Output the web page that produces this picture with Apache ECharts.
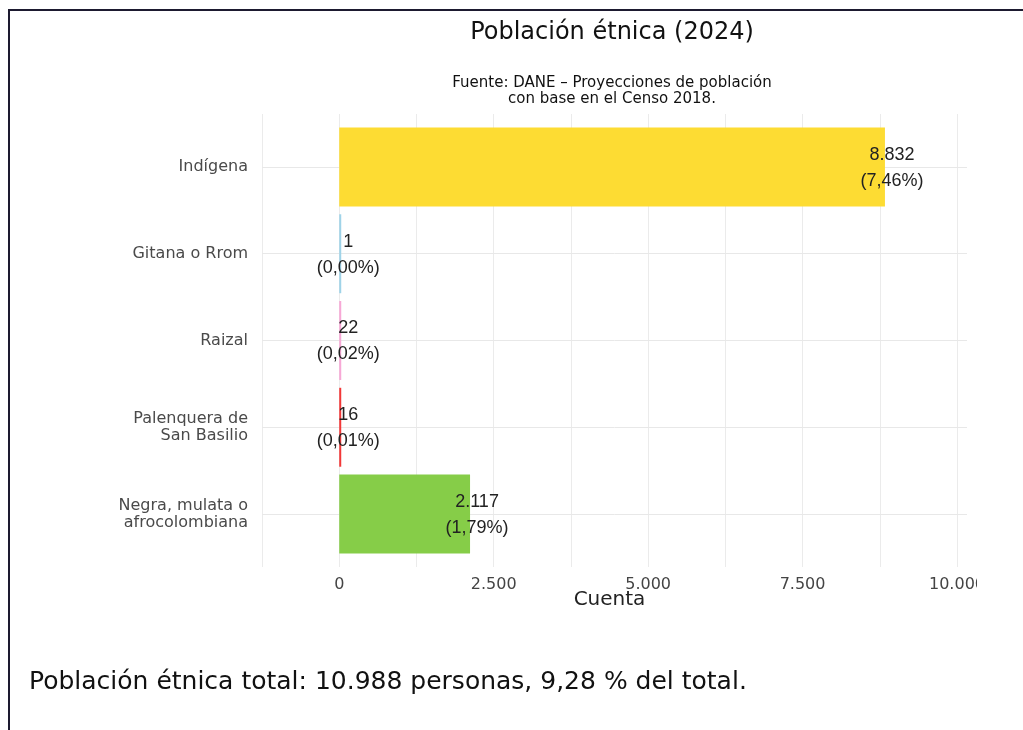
<!DOCTYPE html>
<html>
<head>
<meta charset="utf-8">
<script src="https://cdn.jsdelivr.net/npm/echarts@6/dist/echarts.min.js"></script>
<style>
  html, body { margin: 0; padding: 0; background: #fff; width: 1023px; height: 730px; overflow: hidden; }
  #chart { position: absolute; left: 0; top: 0; width: 977px; height: 730px; }
  #frame { position: absolute; left: 8px; top: 9px; right: 0; bottom: -5px; border-top: 2px solid #1d1a30; border-left: 2px solid #1d1a30; pointer-events: none; }
</style>
</head>
<body>
<div id="chart"></div>
<div id="frame"></div>
<script>
const titleText = 'Población étnica (2024)';
const subtitleText = 'Fuente: DANE – Proyecciones de población\ncon base en el Censo 2018.';
const footerText = 'Población étnica total: 10.988 personas, 9,28 % del total.';
const axisName = 'Cuenta';
const categories = ['Negra, mulata o\nafrocolombiana', 'Palenquera de\nSan Basilio', 'Raizal', 'Gitana o Rrom', 'Indígena'];
const counts = [2117, 16, 22, 1, 8832];
const percents = [1.79, 0.01, 0.02, 0.00, 7.46];
const barColors = ['#86CD48', '#F23838', '#F7A8D6', '#9FD3E8', '#FDDC33'];
const xTickLabels = [0, 2500, 5000, 7500, 10000];

const fmtNum = v => Math.round(v).toString().replace(/\B(?=(\d{3})+(?!\d))/g, '.');
const fmtPct = p => p.toFixed(2).replace('.', ',');

const chart = echarts.init(document.getElementById('chart'), null, { renderer: 'canvas' });

const option = {
  backgroundColor: '#ffffff',
  animation: false,
  grid: [
    { left: 262, right: 10, top: 123.6, bottom: 172.6, containLabel: false, outerBoundsMode: 'none' },
    { left: 262, right: 20, top: 114, bottom: 163, containLabel: false, outerBoundsMode: 'none' }
  ],
  xAxis: [
    { type: 'value', gridIndex: 0, min: -1250, max: 10160, interval: 1250,
      axisLine: { show: false }, axisTick: { show: false }, axisLabel: { show: false }, splitLine: { show: false } },
    { type: 'value', gridIndex: 1, min: -1250, max: 10000, interval: 1250,
      axisLine: { show: false }, axisTick: { show: false },
      splitLine: { show: true, lineStyle: { color: '#ebebeb', width: 1 } },
      axisLabel: {
        margin: 10, fontSize: 16, color: '#444', fontFamily: 'DejaVu Sans',
        formatter: v => (xTickLabels.indexOf(v) >= 0 ? fmtNum(v) : '')
      },
      name: axisName, nameLocation: 'middle', nameGap: 23, nameMoveOverlap: false,
      nameTextStyle: { fontSize: 20, color: '#222', fontFamily: 'DejaVu Sans' }
    }
  ],
  yAxis: [
    { type: 'category', gridIndex: 0, data: categories,
      axisLine: { show: false }, axisTick: { show: false }, splitLine: { show: false },
      axisLabel: { margin: 14, fontSize: 16, lineHeight: 17, color: '#4a4a4a', fontFamily: 'DejaVu Sans', align: 'right' } },
    { type: 'value', gridIndex: 1, min: 0, max: 1, show: false }
  ],
  series: [
    {
      type: 'scatter', xAxisIndex: 0, yAxisIndex: 0, data: [], z: 0, silent: true,
      markLine: {
        z: 0, silent: true, symbol: ['none', 'none'],
        label: { show: false },
        lineStyle: { color: '#e8e8e8', width: 1, type: 'solid' },
        data: categories.map(c => ({ yAxis: c }))
      }
    },
    {
      type: 'bar', xAxisIndex: 0, yAxisIndex: 0, z: 3,
      barCategoryGap: '9%', barMinHeight: 2,
      data: counts.map((v, i) => ({ value: v, itemStyle: { color: barColors[i] } })),
      label: {
        show: true, position: ['100%', '50%'], offset: [7, 1],
        align: 'center', verticalAlign: 'middle',
        fontFamily: 'Liberation Sans, Arial, sans-serif', fontSize: 18, lineHeight: 26, color: '#222',
        formatter: p => fmtNum(counts[p.dataIndex]) + '\n(' + fmtPct(percents[p.dataIndex]) + '%)'
      }
    }
  ],
  graphic: [
    { type: 'text', x: 612, y: 33, style: { text: titleText, fontFamily: 'DejaVu Sans', fontSize: 24, fill: '#111', align: 'center', verticalAlign: 'middle' } },
    { type: 'text', x: 612, y: 91, style: { text: subtitleText, fontFamily: 'DejaVu Sans', fontSize: 15, lineHeight: 16, fill: '#111', align: 'center', verticalAlign: 'middle' } },
    { type: 'text', x: 29, y: 682, style: { text: footerText, fontFamily: 'DejaVu Sans', fontSize: 25, fill: '#111', align: 'left', verticalAlign: 'middle' } }
  ]
};
chart.setOption(option);
</script>
</body>
</html>
